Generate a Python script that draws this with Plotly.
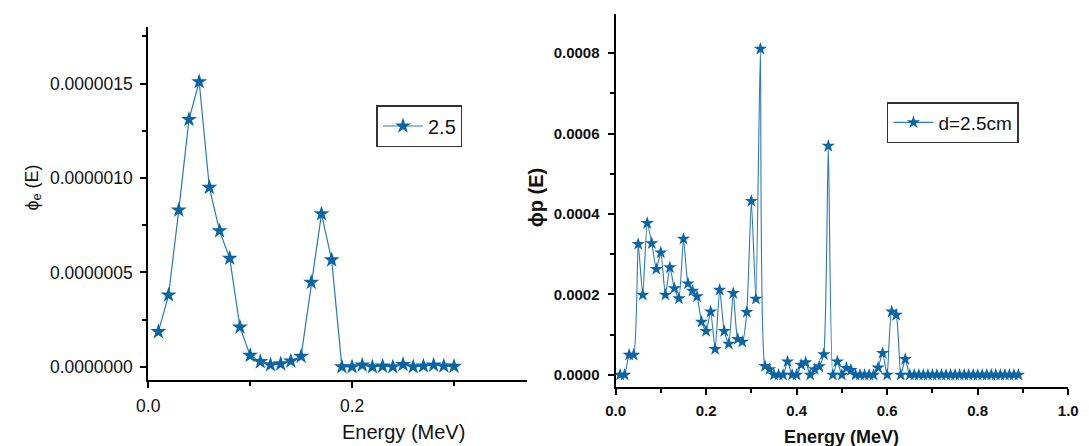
import plotly.graph_objects as go

# ---- data ----
energy_e = [round(0.01 * i, 2) for i in range(1, 31)]
phi_e_1e7 = [1.86, 3.8, 8.3, 13.1, 15.1, 9.5, 7.2, 5.75, 2.1, 0.6,
             0.27, 0.1, 0.15, 0.3, 0.55, 4.47, 8.1, 5.66, 0.0, 0.0,
             0.09, 0.0, 0.03, 0.0, 0.12, 0.0, 0.04, 0.09, 0.04, 0.02]
phi_e = [v * 1e-7 for v in phi_e_1e7]

energy_p = [round(0.01 * i, 2) for i in range(1, 90)]
phi_p_1e4 = [0, 0, 0.50, 0.50, 3.25, 1.99, 3.77, 3.27, 2.63, 3.04,
             1.99, 2.67, 2.15, 1.90, 3.38, 2.27, 2.09, 1.95, 1.32, 1.09,
             1.57, 0.64, 2.11, 1.09, 0.77, 2.03, 0.89, 0.82, 1.56, 4.32,
             1.89, 8.10, 0.22, 0.14, 0, 0, 0, 0.33, 0, 0,
             0.25, 0.31, 0, 0.14, 0.21, 0.51, 5.69, 0, 0.33, 0,
             0.17, 0.12, 0, 0, 0, 0, 0, 0.18, 0.54, 0,
             1.57, 1.49, 0, 0.39] + [0] * 25
phi_p = [v * 1e-4 for v in phi_p_1e4]

left_yticks = [0, 5e-7, 1e-6, 1.5e-6]
left_yticklabels = ["0.0000000", "0.0000005", "0.0000010", "0.0000015"]
left_xticks = [0.0, 0.2]
left_xticklabels = ["0.0", "0.2"]

legend_left = "2.5"
legend_right = "d=2.5cm"

W, H = 1089, 446
LINE = "#2a78b8"
MARK = "#0a64a8"
FONT = "Liberation Sans, Arial, sans-serif"

def px(x):
    return x / W

def py(y):
    return 1 - y / H

fig = go.Figure()
fig.add_trace(go.Scatter(
    x=energy_e, y=phi_e, mode="lines+markers", name=legend_left,
    line=dict(color=LINE, width=1.2),
    marker=dict(symbol="star", size=12, color=MARK),
    xaxis="x", yaxis="y", legend="legend"))
fig.add_trace(go.Scatter(
    x=energy_p, y=phi_p, mode="lines+markers", name=legend_right,
    line=dict(color=LINE, width=1.1, shape="spline", smoothing=0.5),
    marker=dict(symbol="star", size=10, color=MARK),
    xaxis="x2", yaxis="y2", legend="legend2"))

axis_common = dict(showline=True, linecolor="black", linewidth=2,
                   ticks="outside", ticklen=6, tickwidth=1.5, tickcolor="black",
                   showgrid=False, zeroline=False, mirror=False)
minor_common = dict(ticks="outside", ticklen=4, tickwidth=1.5, tickcolor="black")

fig.update_layout(
    width=W, height=H, autosize=False,
    margin=dict(l=0, r=0, t=0, b=0),
    paper_bgcolor="white", plot_bgcolor="white",
    font=dict(family=FONT, color="#111"),
    xaxis=dict(domain=[px(139), px(526)], range=[0, 0.372], anchor="y",
               tickvals=left_xticks, ticktext=left_xticklabels,
               minor=dict(tickvals=[0.1, 0.3], **minor_common),
               ticklabelstandoff=3,
               tickfont=dict(size=17.5, family=FONT), **axis_common),
    yaxis=dict(domain=[py(380), py(27)], range=[-7e-8, 1.8e-6], anchor="x",
               tickvals=left_yticks, ticktext=left_yticklabels,
               minor=dict(tickvals=[2.5e-7, 7.5e-7, 1.25e-6, 1.75e-6], **minor_common),
               ticklabelstandoff=4,
               tickfont=dict(size=17.5, family=FONT), **axis_common),
    xaxis2=dict(domain=[px(616), px(1078)], range=[0, 1.0], anchor="y2",
                dtick=0.2, tickformat=".1f",
                minor=dict(dtick=0.1, **minor_common),
                ticklabelstandoff=3,
                tickfont=dict(size=15, family=FONT, weight="bold"), **axis_common),
    yaxis2=dict(domain=[py(387), py(14)], range=[-3e-5, 8.97e-4], anchor="x2",
                dtick=0.0002, tickformat=".4f",
                minor=dict(dtick=0.0001, **minor_common),
                ticklabelstandoff=5,
                tickfont=dict(size=15, family=FONT, weight="bold"), **axis_common),
    legend=dict(x=px(372), y=py(105), xanchor="left", yanchor="top",
                bordercolor="#333", borderwidth=1.5, bgcolor="white",
                font=dict(size=20, family=FONT), itemwidth=40),
    legend2=dict(x=px(893), y=py(102), xanchor="left", yanchor="top",
                 bordercolor="#333", borderwidth=1.5, bgcolor="white",
                 font=dict(size=19, family=FONT), itemwidth=40),
    showlegend=True,
)

fig.add_annotation(text="Energy (MeV)", x=px(400), y=py(432), xref="paper", yref="paper",
                   xanchor="center", yanchor="middle",
                   showarrow=False, font=dict(size=20, family=FONT))
fig.add_annotation(text="\u03d5<sub>e</sub> (E)", x=px(21), y=py(188), xref="paper", yref="paper",
                   xanchor="center", yanchor="middle",
                   showarrow=False, textangle=-90, font=dict(size=18, family=FONT))
fig.add_annotation(text="<b>Energy (MeV)</b>", x=px(847), y=py(437), xref="paper", yref="paper",
                   xanchor="center", yanchor="middle",
                   showarrow=False, font=dict(size=18, family=FONT))
fig.add_annotation(text="<b>\u03d5p (E)</b>", x=px(535), y=py(198), xref="paper", yref="paper",
                   xanchor="center", yanchor="middle",
                   showarrow=False, textangle=-90, font=dict(size=20, family=FONT))

fig.write_html("out.html")
